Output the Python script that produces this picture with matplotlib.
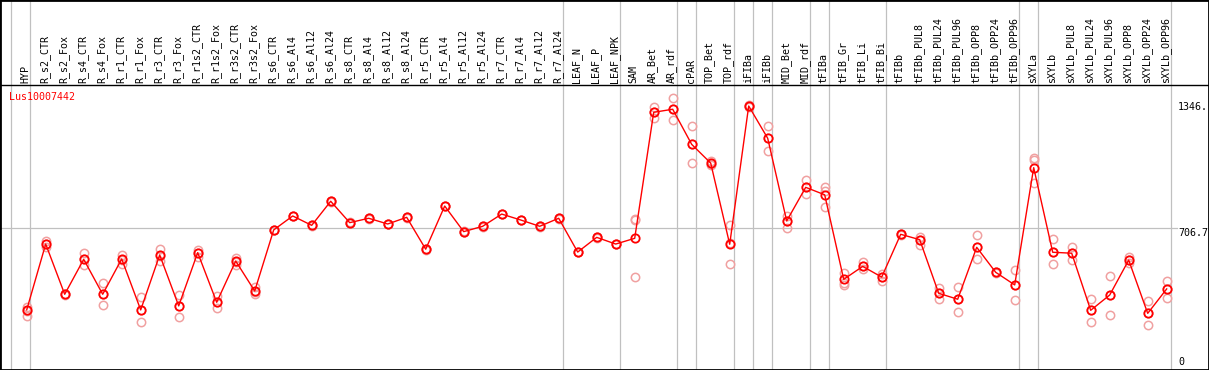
import matplotlib

matplotlib.use("Agg")
import matplotlib.pyplot as plt

GENE = "Lus10007442"

SAMPLES = [
    "HYP",
    "R_s2_CTR", "R_s2_Fox", "R_s4_CTR", "R_s4_Fox", "R_r1_CTR", "R_r1_Fox",
    "R_r3_CTR", "R_r3_Fox", "R_r1s2_CTR", "R_r1s2_Fox", "R_r3s2_CTR", "R_r3s2_Fox",
    "R_s6_CTR", "R_s6_Al4", "R_s6_Al12", "R_s6_Al24",
    "R_s8_CTR", "R_s8_Al4", "R_s8_Al12", "R_s8_Al24",
    "R_r5_CTR", "R_r5_Al4", "R_r5_Al12", "R_r5_Al24",
    "R_r7_CTR", "R_r7_Al4", "R_r7_Al12", "R_r7_Al24",
    "LEAF_N", "LEAF_P", "LEAF_NPK",
    "SAM", "AR_Bet", "AR_rdf", "cPAR", "TOP_Bet", "TOP_rdf",
    "iFIBa", "iFIBb", "MID_Bet", "MID_rdf", "tFIBa",
    "tFIB_Gr", "tFIB_Li", "tFIB_Bi",
    "tFIBb", "tFIBb_PUL8", "tFIBb_PUL24", "tFIBb_PUL96",
    "tFIBb_OPP8", "tFIBb_OPP24", "tFIBb_OPP96",
    "sXYLa", "sXYLb", "sXYLb_PUL8", "sXYLb_PUL24", "sXYLb_PUL96",
    "sXYLb_OPP8", "sXYLb_OPP24", "sXYLb_OPP96",
]

# mean expression per sample
MEANS = [
    278, 623, 360, 543, 360, 545, 278, 566, 299, 578, 318, 534, 377,
    697, 770, 721, 847, 735, 758, 728, 763, 596, 822, 688, 716, 780, 749, 716, 758,
    581, 658, 623,
    653, 1313, 1329, 1145, 1047, 622, 1346, 1177, 744, 920,
    881, 438, 506, 450, 674, 646, 365, 334, 606, 475, 409,
    1023, 580, 575, 276, 356, 539, 260, 388,
]

# the three replicates
REP_A = [
    293, 641, 361, 578, 417, 566, 344, 597, 355, 592, 349, 552, 397,
    699, 772, 724, 849, 737, 760, 730, 765, 598, 824, 690, 718, 782, 751, 718, 760,
    583, 660, 625,
    753, 1342, 1386, 1240, 1058, 723, 1351, 1240, 771, 957,
    923, 473, 531, 466, 678, 662, 394, 398, 669, 478, 487,
    1072, 649, 609, 335, 456, 557, 323, 429,
]
REP_B = [
    274, 623, 360, 543, 360, 539, 278, 560, 299, 575, 320, 531, 373,
    696, 770, 721, 847, 735, 758, 728, 763, 595, 822, 688, 716, 780, 749, 716, 758,
    581, 658, 623,
    749, 1313, 1329, 1145, 1044, 626, 1346, 1177, 744, 920,
    902, 419, 506, 450, 674, 646, 365, 334, 606, 475, 409,
    1063, 580, 575, 276, 356, 539, 260, 388,
]
REP_C = [
    248, 609, 358, 513, 302, 519, 213, 536, 241, 557, 290, 513, 360,
    694, 768, 719, 845, 733, 756, 726, 761, 593, 820, 685, 714, 778, 747, 714, 756,
    579, 656, 621,
    449, 1283, 1271, 1046, 1037, 517, 1341, 1109, 709, 884,
    815, 409, 492, 431, 670, 618, 334, 269, 543, 472, 328,
    941, 517, 539, 216, 251, 525, 197, 339,
]

# index of the last sample in each group (separators drawn after them)
GROUP_ENDS = [-1, 0, 28, 31, 34, 35, 37, 38, 39, 41, 42, 45, 52, 53, 60]

Y_TOP_LABEL = "1346."
Y_MID = 706.7
Y_MID_LABEL = "706.7"

W_PX, H_PX = 1209, 370
X0_PX, DX_PX = 26.7, 19.0  # pixel of first sample, spacing
Y0_PX, PX_PER_UNIT = 363.0, 0.19094  # pixel of value 0, scale
HEADER_PX = 85

RED = "#ff0000"
PINK = "#f0a0a0"
GRID = "#c0c0c0"
MONO = "DejaVu Sans Mono"


def px_to_x(px):
    return (px - X0_PX) / DX_PX


def px_to_y(py):
    return (Y0_PX - py) / PX_PER_UNIT


def main():
    fig = plt.figure(figsize=(W_PX / 100, H_PX / 100), dpi=100)
    ax = fig.add_axes([0, 0, 1, 1])
    ax.set_xlim(px_to_x(0), px_to_x(W_PX))
    ax.set_ylim(px_to_y(H_PX), px_to_y(0))
    ax.set_xticks([])
    ax.set_yticks([])
    for s in ax.spines.values():
        s.set_linewidth(2)
        s.set_color("black")

    header = px_to_y(HEADER_PX)
    ax.axhline(header, color="black", lw=1)

    for g in GROUP_ENDS:
        ax.axvline(g + 0.2, color=GRID, lw=0.9, zorder=1)

    ax.plot([px_to_x(0), px_to_x(1177)], [Y_MID, Y_MID], color=GRID, lw=0.9,
            zorder=1)

    x = list(range(len(SAMPLES)))
    for rep in (REP_A, REP_B, REP_C):
        ax.plot(x, rep, ls="none", marker="o", ms=6, mfc="none", mec=PINK,
                mew=1.1, zorder=2)
    ax.plot(x, MEANS, color=RED, lw=1, zorder=3)
    ax.plot(x, MEANS, ls="none", marker="o", ms=6, mfc="none", mec=RED,
            mew=1.3, zorder=4)

    # sample names sit just above the header line
    for i, name in enumerate(SAMPLES):
        ax.annotate(name, xy=(i, header), xytext=(-1, 2),
                    textcoords="offset pixels", rotation=90, ha="center",
                    va="bottom", fontsize=7.2, family=MONO, color="black")

    xr = px_to_x(1178)
    ax.annotate(Y_TOP_LABEL, xy=(xr, max(MEANS)), xytext=(0, -1),
                textcoords="offset pixels", ha="left", va="center",
                fontsize=7.2, family=MONO)
    ax.annotate(Y_MID_LABEL, xy=(xr, Y_MID), xytext=(0, -4.5),
                textcoords="offset pixels", ha="left", va="center",
                fontsize=7.2, family=MONO)
    ax.annotate("0", xy=(xr, 0), xytext=(0, 1.3),
                textcoords="offset pixels", ha="left", va="center",
                fontsize=7.2, family=MONO)

    fig.text(9.5 / W_PX, 1 - 97 / H_PX, GENE, color=RED, ha="left",
             va="center", fontsize=7.2, family=MONO)

    fig.savefig("out.png", dpi=100)


if __name__ == "__main__":
    main()
